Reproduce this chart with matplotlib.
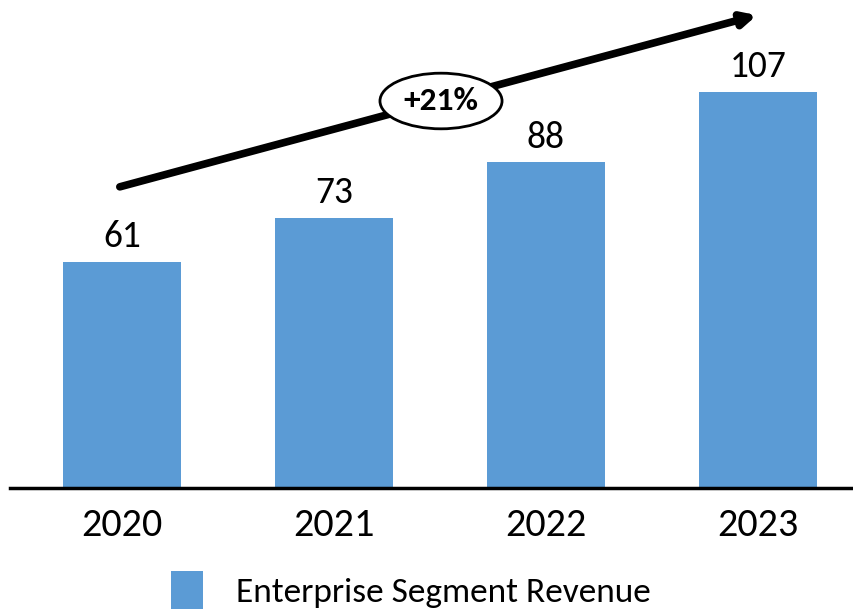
import matplotlib
matplotlib.use("Agg")
import matplotlib.pyplot as plt
from matplotlib.patches import Patch

years = ["2020", "2021", "2022", "2023"]
revenue = [61, 73, 88, 107]
series_name = "Enterprise Segment Revenue"
cagr_label = "+21%"

plt.rcParams['font.family'] = ['Carlito', 'Open Sans', 'DejaVu Sans']

fig = plt.figure(figsize=(8.54, 6.11), dpi=100)
ax = fig.add_axes([10/854, (611-488)/611, 1 - 10/854, 488/611])
color = "#5B9BD5"
x = list(range(len(years)))
bars = ax.bar(x, revenue, width=0.557, color=color, zorder=2)
for xi, v in zip(x, revenue):
    ax.text(xi, v + 2.4, str(v), ha='center', va='bottom', fontsize=27)

ax.set_xlim(-0.528, 3.453)
ax.set_ylim(0, 131.9)
for s in ['top', 'right', 'left']:
    ax.spines[s].set_visible(False)
ax.spines['bottom'].set_linewidth(2.5)
ax.set_yticks([])
ax.set_xticks(x)
ax.set_xticklabels(years, fontsize=29)
ax.tick_params(axis='x', length=0, pad=14)

# growth arrow
ax.annotate("", xy=(2.995, 127.8), xytext=(-0.01, 81.4),
            arrowprops=dict(arrowstyle="-|>,head_length=0.8,head_width=0.4",
                            lw=5.5, color="black", shrinkA=0, shrinkB=0),
            annotation_clip=False, zorder=3)
ax.text(1.505, 104.6, cagr_label, ha='center', va='center', fontsize=24,
        fontweight='bold', zorder=4,
        bbox=dict(boxstyle="ellipse,pad=0.17", fc="white", ec="black", lw=2))

handles = [Patch(facecolor=color, edgecolor='none')]
fig.legend(handles, [series_name], loc='center', bbox_to_anchor=(411/854, 1 - 590/611),
           frameon=False, fontsize=25.5, handlelength=0.9, handleheight=1.3,
           handletextpad=0.95)

fig.savefig("out.png", dpi=100)
